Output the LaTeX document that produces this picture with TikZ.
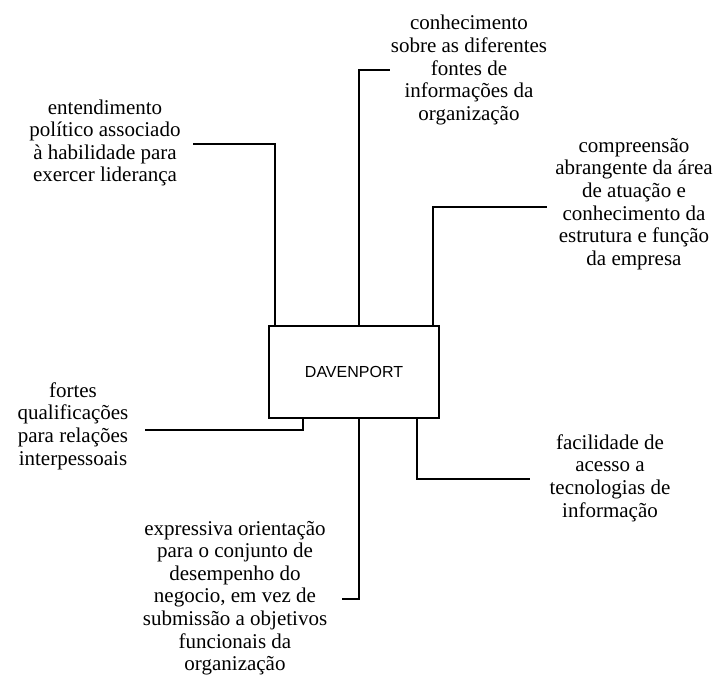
\documentclass[tikz,border=0pt]{standalone}
\usepackage{fontspec}
\setmainfont{Liberation Serif}
\newfontfamily\lblfont{Liberation Serif}
\newfontfamily\boxfont{Liberation Sans}
\usetikzlibrary{positioning}
\tikzset{
  mainbox/.style={rectangle,draw=black,line width=1.6pt,minimum width=170pt,minimum height=92pt,inner sep=0pt,font=\boxfont\fontsize{16}{18}\selectfont},
  lblnode/.style={align=center,inner sep=0pt,font=\lblfont\fontsize{21}{22.6}\selectfont},
  link/.style={line width=1.6pt,color=black}
}

\begin{document}
\begin{tikzpicture}[x=1pt,y=-1pt]
  \useasboundingbox (0,0) rectangle (716,686);

  %% Central box
  \node[mainbox] (dav) at (354,372) {DAVENPORT};

  %% Labels round the box
  \node[lblnode] (lead) at (105,143)
    {entendimento\\político associado\\à habilidade para\\exercer liderança};
  \node[lblnode] (fontes) at (469,70)
    {conhecimento\\sobre as diferentes\\fontes de\\informações da\\organização};
  \node[lblnode] (area) at (634,204)
    {compreensão\\abrangente da área\\de atuação e\\conhecimento da\\estrutura e função\\da empresa};
  \node[lblnode] (inter) at (73,426)
    {fortes\\qualificações\\para relações\\interpessoais};
  \node[lblnode] (negocio) at (235,598)
    {expressiva orientação\\para o conjunto de\\desempenho do\\negocio, em vez de\\submissão a objetivos\\funcionais da\\organização};
  \node[lblnode] (tecno) at (610,478)
    {facilidade de\\acesso a\\tecnologias de\\informação};

  %% Free ends of the connectors
  \coordinate (leadEnd) at (193,144);
  \coordinate (fontesEnd) at (390,70);
  \coordinate (areaEnd) at (547,207);
  \coordinate (interEnd) at (145,430);
  \coordinate (negocioEnd) at (342,599);
  \coordinate (tecnoEnd) at (530,479);

  %% Connectors
  \draw[link] ([xshift=-79pt]dav.north) |- (leadEnd);
  \draw[link] ([xshift=5pt]dav.north) |- (fontesEnd);
  \draw[link] ([xshift=79pt]dav.north) |- (areaEnd);
  \draw[link] ([xshift=-51pt]dav.south) |- (interEnd);
  \draw[link] ([xshift=5pt]dav.south) |- (negocioEnd);
  \draw[link] ([xshift=63pt]dav.south) |- (tecnoEnd);
\end{tikzpicture}
\end{document}
